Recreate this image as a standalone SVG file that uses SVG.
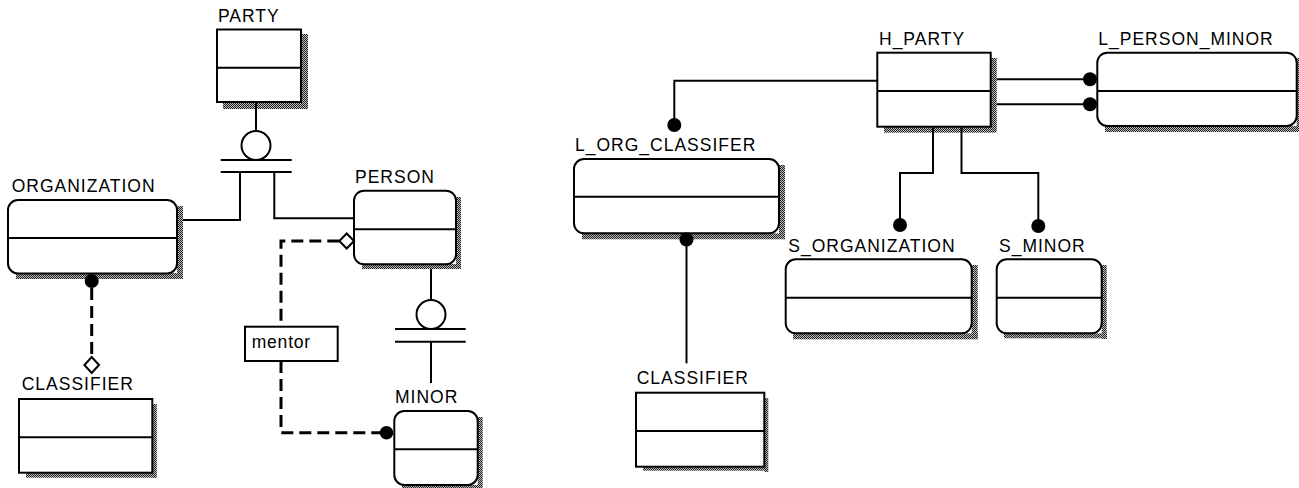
<svg xmlns="http://www.w3.org/2000/svg" width="1299" height="488" viewBox="0 0 1299 488">
<defs>
<pattern id="dots" width="2" height="2" patternUnits="userSpaceOnUse"><rect width="2" height="2" fill="#bbb"/><rect width="1" height="1" fill="#222"/><rect x="1" y="1" width="1" height="1" fill="#222"/></pattern>
</defs>
<style>
text{font-family:"Liberation Sans",Arial,sans-serif;font-size:17.5px;letter-spacing:1px;fill:#000}
.box{fill:#fff;stroke:#000;stroke-width:2}
.div{stroke:#000;stroke-width:2}
.sh{fill:url(#dots)}
.ln{fill:none;stroke:#000;stroke-width:2}
.dash{fill:none;stroke:#000;stroke-width:3;stroke-dasharray:12 6}
.dot{fill:#000}
.dia{fill:#fff;stroke:#000;stroke-width:2}
</style>
<rect width="1299" height="488" fill="#fff"/>
<g id="PARTY">
<rect class="sh" x="301" y="34" width="7" height="75"/><rect class="sh" x="223" y="102" width="85" height="7"/>
<rect class="box" x="217" y="29.5" width="84" height="72.5"/>
<line class="div" x1="217" y1="67.7" x2="301" y2="67.7"/>
<text x="218" y="21.7">PARTY</text>
</g>
<g id="ORGANIZATION">
<rect class="sh" x="177" y="206" width="6" height="73"/><rect class="sh" x="16" y="273" width="167" height="6"/>
<rect class="box" x="8" y="200" width="169" height="73.5" rx="10"/>
<line class="div" x1="8" y1="238" x2="177" y2="238"/>
<text x="11.7" y="192.3">ORGANIZATION</text>
</g>
<g id="PERSON">
<rect class="sh" x="456" y="197" width="5" height="72"/><rect class="sh" x="362" y="264" width="99" height="5"/>
<rect class="box" x="354" y="190.7" width="102" height="73.6" rx="10"/>
<line class="div" x1="354" y1="229.3" x2="456" y2="229.3"/>
<text x="355" y="183.3">PERSON</text>
</g>
<g id="MINOR">
<rect class="sh" x="477.7" y="417" width="5" height="71"/><rect class="sh" x="402" y="485" width="80" height="3"/>
<rect class="box" x="394.3" y="411" width="83.4" height="74" rx="10"/>
<line class="div" x1="394.3" y1="449.3" x2="477.7" y2="449.3"/>
<text x="395" y="403.3">MINOR</text>
</g>
<g id="CLASSIFIER_left">
<rect class="sh" x="152.3" y="404" width="4.5" height="74"/><rect class="sh" x="26" y="472.7" width="130" height="5"/>
<rect class="box" x="19" y="399" width="133.3" height="73.7"/>
<line class="div" x1="19" y1="437.3" x2="152.3" y2="437.3"/>
<text x="21.7" y="390">CLASSIFIER</text>
</g>
<g id="H_PARTY">
<rect class="sh" x="990.7" y="58" width="6" height="74"/><rect class="sh" x="884" y="126.7" width="112" height="6"/>
<rect class="box" x="877.3" y="52.7" width="113.4" height="74"/>
<line class="div" x1="877.3" y1="91" x2="990.7" y2="91"/>
<text x="879" y="45">H_PARTY</text>
</g>
<g id="L_PERSON_MINOR">
<rect class="sh" x="1296.7" y="58" width="3" height="74"/><rect class="sh" x="1105" y="126" width="194" height="6"/>
<rect class="box" x="1097.3" y="52.7" width="199.4" height="73.3" rx="10"/>
<line class="div" x1="1097.3" y1="91" x2="1296.7" y2="91"/>
<text x="1098.3" y="45">L_PERSON_MINOR</text>
</g>
<g id="L_ORG_CLASSIFER">
<rect class="sh" x="779" y="165" width="6" height="74"/><rect class="sh" x="582" y="233.3" width="203" height="6"/>
<rect class="box" x="574" y="159" width="205" height="74.3" rx="10"/>
<line class="div" x1="574" y1="196.7" x2="779" y2="196.7"/>
<text x="575" y="151">L_ORG_CLASSIFER</text>
</g>
<g id="S_ORGANIZATION">
<rect class="sh" x="971.7" y="265" width="6" height="74"/><rect class="sh" x="793" y="333.3" width="185" height="6"/>
<rect class="box" x="785.7" y="259.3" width="186" height="74" rx="10"/>
<line class="div" x1="785.7" y1="297.7" x2="971.7" y2="297.7"/>
<text x="788.3" y="251.7">S_ORGANIZATION</text>
</g>
<g id="S_MINOR">
<rect class="sh" x="1101.7" y="265" width="5" height="74"/><rect class="sh" x="1004" y="333.3" width="103" height="5"/>
<rect class="box" x="996.7" y="259.3" width="105" height="74" rx="10"/>
<line class="div" x1="996.7" y1="297.7" x2="1101.7" y2="297.7"/>
<text x="999" y="251.7">S_MINOR</text>
</g>
<g id="CLASSIFIER_right">
<rect class="sh" x="764.3" y="398" width="4" height="74"/><rect class="sh" x="643" y="466.7" width="125" height="4"/>
<rect class="box" x="636" y="392.7" width="128.3" height="74"/>
<line class="div" x1="636" y1="431" x2="764.3" y2="431"/>
<text x="636.7" y="384.3">CLASSIFIER</text>
</g>
<g id="connectors">
<line class="ln" x1="256" y1="102" x2="256" y2="131"/>
<circle class="ln" cx="256" cy="145.5" r="14.5"/>
<line class="ln" x1="220.7" y1="160" x2="291.7" y2="160"/>
<line class="ln" x1="220.7" y1="172" x2="291.7" y2="172"/>
<polyline class="ln" points="240,172 240,220 183,220"/>
<polyline class="ln" points="274.3,172 274.3,218.3 354,218.3"/>
<line class="ln" x1="431" y1="269" x2="431" y2="300"/>
<circle class="ln" cx="431" cy="314.5" r="14.5"/>
<line class="ln" x1="395" y1="329" x2="465.7" y2="329"/>
<line class="ln" x1="395" y1="341.7" x2="465.7" y2="341.7"/>
<line class="ln" x1="431" y1="341.7" x2="431" y2="383"/>
<polyline class="dash" points="339.3,241 281,241 281,326.7"/>
<polyline class="dash" points="281,361 281,432.7 382,432.7"/>
<polygon class="dia" points="354,241 346.7,233.5 339.3,241 346.7,248.5"/>
<circle class="dot" cx="386.5" cy="432.7" r="6.8"/>
<g id="mentor">
<rect class="box" x="245" y="326.7" width="92.7" height="34.3"/>
<text x="251.7" y="348.3" style="letter-spacing:0.8px">mentor</text>
</g>
<line class="dash" x1="91.7" y1="288" x2="91.7" y2="357"/>
<circle class="dot" cx="91.7" cy="281" r="7"/>
<polygon class="dia" points="99,365 91.7,357 84.4,365 91.7,373"/>
<polyline class="ln" points="877.3,80.7 674.3,80.7 674.3,125"/>
<circle class="dot" cx="674.3" cy="125" r="7"/>
<line class="ln" x1="996.7" y1="79.3" x2="1090" y2="79.3"/>
<line class="ln" x1="996.7" y1="104.3" x2="1090" y2="104.3"/>
<circle class="dot" cx="1090" cy="79.3" r="7"/>
<circle class="dot" cx="1090" cy="104.3" r="7"/>
<polyline class="ln" points="933,127.5 933,173 900,173 900,225"/>
<circle class="dot" cx="900" cy="225" r="7"/>
<polyline class="ln" points="961.5,127.5 961.5,173 1038.3,173 1038.3,226"/>
<circle class="dot" cx="1038.3" cy="226" r="7"/>
<line class="ln" x1="686.5" y1="239.5" x2="686.5" y2="363.3"/>
<circle class="dot" cx="686.5" cy="239.5" r="7"/>
</g>
</svg>
